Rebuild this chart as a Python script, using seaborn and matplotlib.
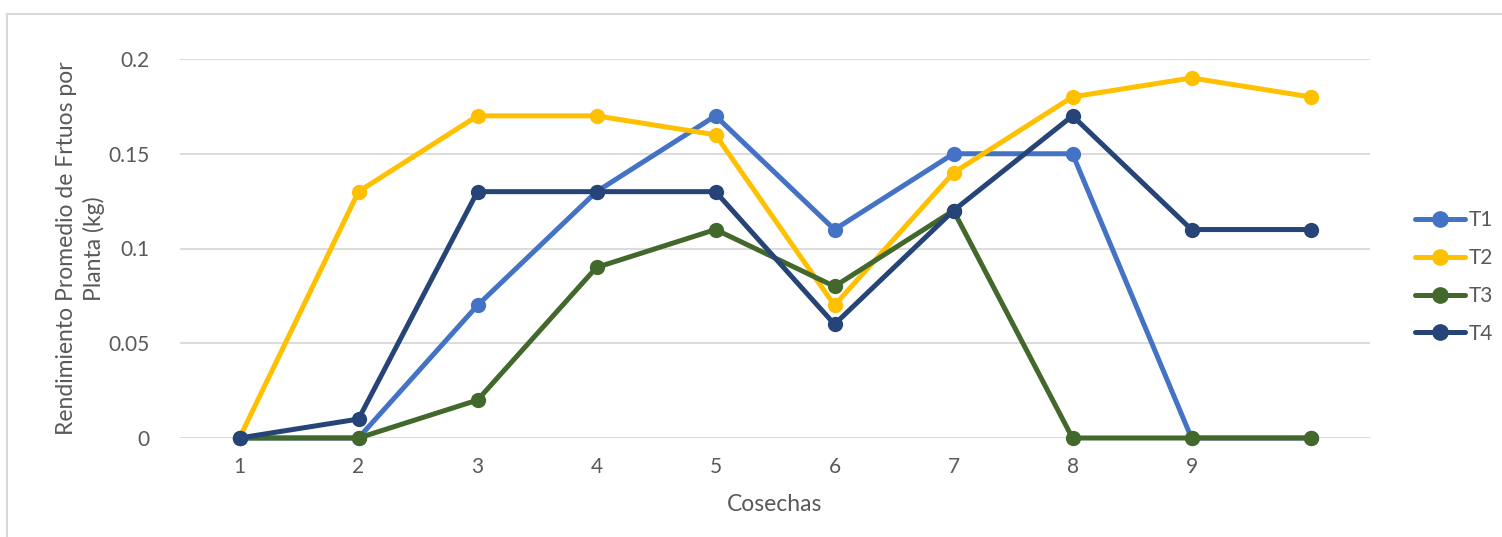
import matplotlib.pyplot as plt
import matplotlib.patches as mpatches
import pandas as pd
import seaborn as sns

cosechas = [1, 2, 3, 4, 5, 6, 7, 8, 9, 10]
t1 = [0, 0, 0.07, 0.13, 0.17, 0.11, 0.15, 0.15, 0, 0]
t2 = [0, 0.13, 0.17, 0.17, 0.16, 0.07, 0.14, 0.18, 0.19, 0.18]
t3 = [0, 0, 0.02, 0.09, 0.11, 0.08, 0.12, 0, 0, 0]
t4 = [0, 0.01, 0.13, 0.13, 0.13, 0.06, 0.12, 0.17, 0.11, 0.11]
series = ["T1", "T2", "T3", "T4"]
colors = ["#4472C4", "#FFC000", "#43682B", "#264478"]
x_ticklabels = ["1", "2", "3", "4", "5", "6", "7", "8", "9"]
y_ticks = [0, 0.05, 0.1, 0.15, 0.2]

rows = []
for name, vals in zip(series, [t1, t2, t3, t4]):
    for c, v in zip(cosechas, vals):
        rows.append({"Cosecha": c, "Valor": v, "Serie": name})
df = pd.DataFrame(rows)

sns.set_style("white")
plt.rcParams["font.family"] = ["Lato", "DejaVu Sans"]
grey = "#595959"

fig = plt.figure(figsize=(15.02, 5.37), dpi=100)
ax = fig.add_axes([180 / 1502, 1 - 438 / 537, 1190 / 1502, 379 / 537])

# chart border
fig.patches.append(mpatches.Rectangle((7 / 1502, -0.1), 1.2, 1 - 14 / 537 + 0.1,
                                      transform=fig.transFigure, fill=False,
                                      edgecolor="#D9D9D9", linewidth=1.5))

sns.lineplot(data=df, x="Cosecha", y="Valor", hue="Serie", hue_order=series,
             palette=colors, marker="o", markersize=11, markeredgewidth=0,
             linewidth=3.6, ax=ax, legend=False, clip_on=False, zorder=3)

ax.set_xlim(0.5, 10.5)
ax.set_ylim(0, 0.2)
ax.set_xticks(cosechas[:9])
ax.set_xticklabels(x_ticklabels)
ax.set_yticks(y_ticks)
ax.set_yticklabels(["0", "0.05", "0.1", "0.15", "0.2"])
ax.tick_params(axis="both", length=0, labelsize=15, labelcolor=grey)
ax.tick_params(axis="x", pad=14)
ax.tick_params(axis="y", pad=22)
ax.yaxis.grid(True, color="#D9D9D9", linewidth=1.3)
ax.xaxis.grid(False)
for s in ax.spines.values():
    s.set_visible(False)

ax.set_xlabel("Cosechas", fontsize=16.5, color=grey, labelpad=12)
ax.set_ylabel("Rendimiento Promedio de Frtuos por\nPlanta (kg)", fontsize=16.5,
              color=grey, labelpad=2, linespacing=1.35)

handles = [plt.Line2D([], [], color=c, marker="o", markersize=11, linewidth=3.6)
           for c in colors]
fig.legend(handles, series, loc="center left", bbox_to_anchor=(1396 / 1502, 1 - 277 / 537),
           frameon=False, fontsize=15, labelcolor=grey, handlelength=2.4,
           labelspacing=0.85, handletextpad=0.2)

fig.savefig("out.png", dpi=100)
